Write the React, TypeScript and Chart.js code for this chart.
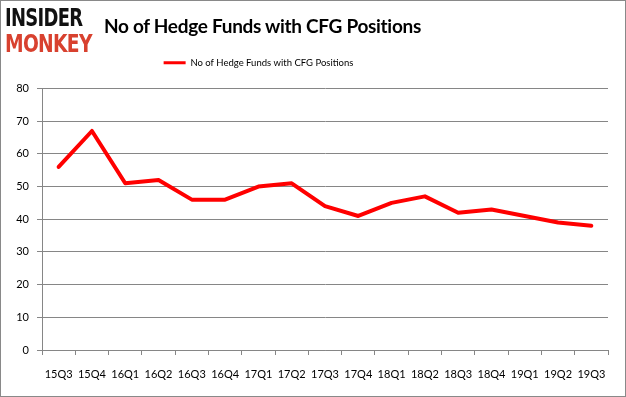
import React, { useEffect, useRef } from "react";
import { Chart, registerables } from "chart.js";

Chart.register(...registerables);

const categories = ["15Q3", "15Q4", "16Q1", "16Q2", "16Q3", "16Q4", "17Q1", "17Q2", "17Q3", "17Q4", "18Q1", "18Q2", "18Q3", "18Q4", "19Q1", "19Q2", "19Q3"];
const hedgeFunds = [56, 67, 51, 52, 46, 46, 50, 51, 44, 41, 45, 47, 42, 43, 41, 39, 38];
const seriesLabel = "No of Hedge Funds with CFG Positions";
const chartTitle = "No of Hedge Funds with CFG Positions";
const yMin = 0;
const yMax = 80;
const yStep = 10;

const GRID = "#868686";
const FONT = "Lato, 'Liberation Sans', sans-serif";

export default function App() {
  const ref = useRef<HTMLCanvasElement | null>(null);

  useEffect(() => {
    if (!ref.current) return;
    const legendPad = {
      id: "legendPad",
      beforeInit(chart: any) {
        const lg = chart.legend;
        if (!lg) return;
        const orig = lg.fit;
        lg.fit = function () {
          orig.call(this);
          this.height += 11;
        };
      },
      afterLayout(chart: any) {
        const lg = chart.legend;
        if (!lg) return;
        lg.left -= 46;
        lg.right -= 46;
      },
    };
    const chart = new Chart(ref.current, {
      type: "line",
      data: {
        labels: categories,
        datasets: [
          {
            label: seriesLabel,
            data: hedgeFunds,
            borderColor: "#ff0000",
            backgroundColor: "#ff0000",
            borderWidth: 4,
            pointRadius: 0,
            pointHoverRadius: 0,
            tension: 0,
            fill: false,
            borderJoinStyle: "round",
            borderCapStyle: "round",
          },
        ],
      },
      options: {
        responsive: false,
        animation: false,
        devicePixelRatio: 1,
        layout: { padding: { top: 47, left: 0, right: 17, bottom: 14 } },
        plugins: {
          title: { display: false },
          tooltip: { enabled: false },
          legend: {
            display: true,
            position: "top",
            labels: {
              boxWidth: 22,
              boxHeight: 3,
              padding: 10,
              color: "#000",
              font: { family: FONT, size: 9.5 },
              generateLabels(c: any) {
                const items = Chart.defaults.plugins.legend.labels.generateLabels(c);
                return items.map((it: any) => ({ ...it, lineWidth: 0, fillStyle: "#ff0000" }));
              },
            },
          },
        },
        scales: {
          x: {
            offset: true,
            grid: {
              offset: true,
              drawOnChartArea: false,
              drawTicks: true,
              tickLength: 5,
              color: GRID,
            },
            border: { color: GRID, width: 1 },
            ticks: {
              color: "#000",
              font: { family: FONT, size: 11 },
              padding: 13,
              maxRotation: 0,
              autoSkip: false,
            },
            afterFit(scale: any) {
              scale.height = 32;
            },
          },
          y: {
            min: yMin,
            max: yMax,
            grid: { color: GRID, tickLength: 5, drawTicks: true },
            border: { color: GRID, width: 1 },
            ticks: {
              stepSize: yStep,
              color: "#000",
              font: { family: FONT, size: 11 },
              padding: 8,
            },
            afterFit(scale: any) {
              scale.width = 41;
            },
          },
        },
      },
      plugins: [legendPad],
    });
    return () => chart.destroy();
  }, []);

  return (
    <div
      style={{
        position: "absolute",
        left: 0,
        top: 0,
        width: 626,
        height: 397,
        boxSizing: "border-box",
        border: "1px solid #898989",
        background: "#fff",
        overflow: "hidden",
      }}
    >
      <canvas ref={ref} width={624} height={395} style={{ position: "absolute", left: 0, top: 0 }} />
      <div
        style={{
          position: "absolute",
          left: 4,
          top: 5,
          fontFamily: "'DejaVu Sans', sans-serif",
          fontWeight: 900,
          lineHeight: 1,
        }}
      >
        <div style={{ color: "#111", fontSize: 26, transform: "scale(0.69, 0.93)", transformOrigin: "0 0", letterSpacing: -1, whiteSpace: "nowrap" }}>INSIDER</div>
        <div style={{ color: "#d8412f", fontSize: 26, transform: "scale(0.72, 0.95)", transformOrigin: "0 0", letterSpacing: -1, marginTop: -1, whiteSpace: "nowrap" }}>MONKEY</div>
      </div>
      <div
        style={{
          position: "absolute",
          left: 103,
          top: 13,
          fontFamily: "Lato, 'Open Sans', sans-serif",
          fontWeight: 700,
          fontSize: 19,
          letterSpacing: -0.3,
          color: "#000",
          whiteSpace: "nowrap",
        }}
      >
        {chartTitle}
      </div>
    </div>
  );
}
